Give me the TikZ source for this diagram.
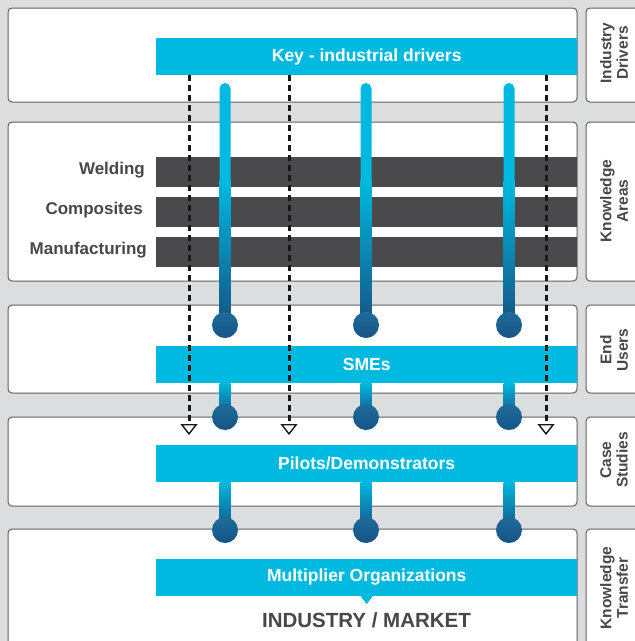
\documentclass[tikz,border=0pt]{standalone}
\usepackage{fontspec}
\setmainfont{Liberation Sans}
\usetikzlibrary{arrows.meta}

\definecolor{bgGrey}{RGB}{220,221,223}
\definecolor{edgeGrey}{RGB}{96,96,98}
\definecolor{keyBlue}{RGB}{0,185,224}
\definecolor{pinBlue}{RGB}{22,84,133}
\definecolor{pinTop}{RGB}{30,108,155}
\definecolor{areaGrey}{RGB}{74,74,76}
\definecolor{textGrey}{RGB}{72,72,74}

\tikzset{
  panel/.style={draw=edgeGrey, fill=white, line width=1pt, rounded corners=4},
  bluebar/.style={fill=keyBlue, text=white, inner sep=0, anchor=west,
    minimum width=421pt, minimum height=37pt, font=\bfseries\fontsize{17.5}{20}\selectfont},
  areabar/.style={fill=areaGrey, inner sep=0, anchor=west, minimum width=421pt, minimum height=30pt},
  arealabel/.style={anchor=east, inner sep=0, text=textGrey, font=\bfseries\fontsize{17}{20}\selectfont},
  sidelabel/.style={rotate=90, align=center, inner sep=0, text=textGrey,
    font=\bfseries\fontsize{15.5}{16.5}\selectfont},
  driver/.style={draw=black!90, line width=3pt, dash pattern=on 6pt off 4pt,
    -{Triangle[open, width=17pt, length=11pt, line width=1.4pt]}},
  pinhead/.style={top color=pinTop, bottom color=pinBlue}
}

\begin{document}
\begin{tikzpicture}[x=1pt,y=-1pt]
\clip (0,0) rectangle (635,641);
\fill [bgGrey] (0,0) rectangle (635,641);

%Shape: Rectangle rows
\draw [panel] (8,8) rectangle (577,102);
\draw [panel] (8,122) rectangle (577,281);
\draw [panel] (8,305) rectangle (577,393);
\draw [panel] (8,417) rectangle (577,506);
\draw [panel] (8,529) rectangle (577,700);
%Shape: Rectangle side column
\draw [panel] (586,8) rectangle (700,102);
\draw [panel] (586,122) rectangle (700,281);
\draw [panel] (586,305) rectangle (700,393);
\draw [panel] (586,417) rectangle (700,506);
\draw [panel] (586,529) rectangle (700,700);

% Knowledge area bars
\node [areabar] (welding) at (156,172) {};
\node [areabar] (composites) at (156,212) {};
\node [areabar] (manufacturing) at (156,252) {};
% Text Node
\node [arealabel] (weldinglbl) at (145,170) {Welding};
\node [arealabel] (compositeslbl) at (143,210) {Composites};
\node [arealabel] (manufacturinglbl) at (147,250) {Manufacturing};

% Blue bars
\node [bluebar] (keybar) at (156,56.5) {Key - industrial drivers};
\node [bluebar] (smebar) at (156,364.5) {SMEs};
\node [bluebar] (pilotbar) at (156,463.5) {Pilots/Demonstrators};
\node [bluebar] (multbar) at (156,577.5) {Multiplier Organizations};
\fill [keyBlue] (multbar.south) ++(-6,0) -- ++(12,0) -- ++(-6,8) -- cycle;

%Pins from the drivers bar
\fill [keyBlue, rounded corners=5.5] (219.5,190) |- (230.5,83) -- (230.5,190) -- cycle;
\shade [top color=keyBlue, bottom color=pinBlue] (219.5,180) rectangle (230.5,325);
\fill [keyBlue, rounded corners=5.5] (360.5,190) |- (371.5,83) -- (371.5,190) -- cycle;
\shade [top color=keyBlue, bottom color=pinBlue] (360.5,180) rectangle (371.5,325);
\fill [keyBlue, rounded corners=5.5] (503.5,190) |- (514.5,83) -- (514.5,190) -- cycle;
\shade [top color=keyBlue, bottom color=pinBlue] (503.5,180) rectangle (514.5,325);
%Pins below SMEs
\shade [top color=keyBlue, bottom color=pinBlue] (219.5,383) rectangle (230.5,417);
\shade [top color=keyBlue, bottom color=pinBlue] (360.5,383) rectangle (371.5,417);
\shade [top color=keyBlue, bottom color=pinBlue] (503.5,383) rectangle (514.5,417);
%Pins below pilots
\shade [top color=keyBlue, bottom color=pinBlue] (219.5,482) rectangle (230.5,530);
\shade [top color=keyBlue, bottom color=pinBlue] (360.5,482) rectangle (371.5,530);
\shade [top color=keyBlue, bottom color=pinBlue] (503.5,482) rectangle (514.5,530);

%Shape: Circle pin heads
\shade [pinhead] (225,325) circle (13);
\shade [pinhead] (366,325) circle (13);
\shade [pinhead] (509,325) circle (13);
\shade [pinhead] (225,417) circle (13);
\shade [pinhead] (366,417) circle (13);
\shade [pinhead] (509,417) circle (13);
\shade [pinhead] (225,530) circle (13);
\shade [pinhead] (366,530) circle (13);
\shade [pinhead] (509,530) circle (13);

%Straight Lines dashed drivers
\coordinate (drv1) at (189,435);
\coordinate (drv2) at (289,435);
\coordinate (drv3) at (546,435);
\draw [driver] (keybar.south -| drv1) -- (drv1);
\draw [driver] (keybar.south -| drv2) -- (drv2);
\draw [driver] (keybar.south -| drv3) -- (drv3);

% Text Node
\node [text=textGrey, font=\bfseries\fontsize{20.5}{24}\selectfont] (market) at (366.5,620) {INDUSTRY / MARKET};

% Text Node side column
\node [sidelabel] (sdrivers) at (614,53) {Industry\\Drivers};
\node [sidelabel] (sareas) at (614,201) {Knowledge\\Areas};
\node [sidelabel] (susers) at (614,350) {End\\Users};
\node [sidelabel] (scases) at (614,460) {Case\\Studies};
\node [sidelabel] (stransfer) at (614,588) {Knowledge\\Transfer};

\end{tikzpicture}
\end{document}
